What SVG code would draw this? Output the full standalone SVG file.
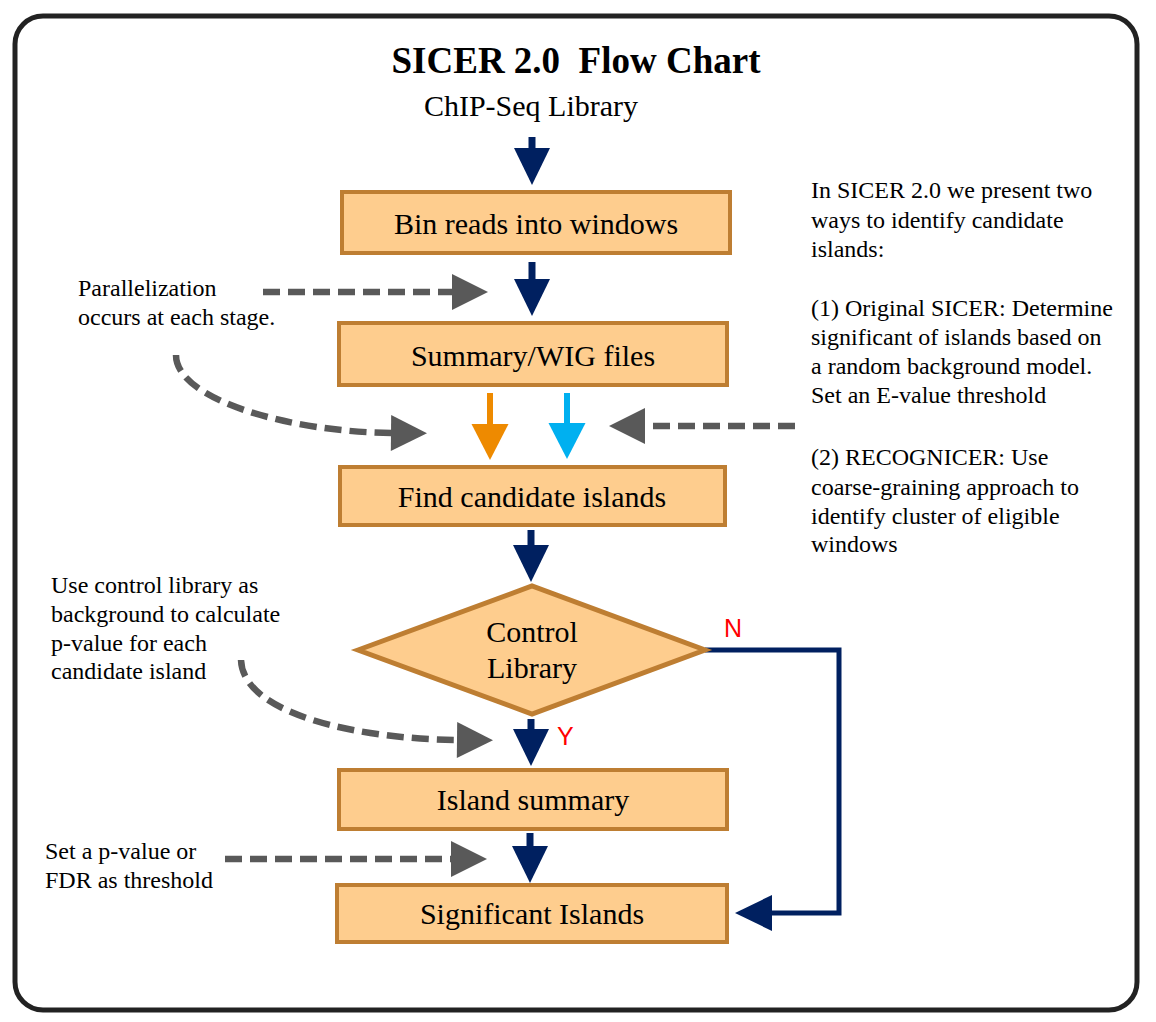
<svg xmlns="http://www.w3.org/2000/svg" width="1156" height="1022" viewBox="0 0 1156 1022">
  <style>
    .box { fill: #FECD8E; stroke: #BE7E32; stroke-width: 4; }
    .btxt { font-family: "Liberation Serif", "Times New Roman", serif; font-size: 30px; fill: #000; text-anchor: middle; }
    .note { font-family: "Liberation Serif", "Times New Roman", serif; font-size: 24px; fill: #000; }
    .yn { font-family: "Liberation Sans", Arial, sans-serif; font-size: 25px; fill: #FF0000; }
    .navy { stroke: #002060; stroke-width: 7; fill: none; }
    .gray { stroke: #595959; stroke-width: 6.5; fill: none; stroke-dasharray: 17 8; }
  </style>
  <defs>
    <marker id="hNavy" markerUnits="userSpaceOnUse" markerWidth="38" markerHeight="36" refX="1" refY="18" orient="auto" overflow="visible">
      <path d="M0,0 L37,18 L0,36 z" fill="#002060"/>
    </marker>
    <marker id="hGray" markerUnits="userSpaceOnUse" markerWidth="37" markerHeight="37" refX="1" refY="18" orient="auto" overflow="visible">
      <path d="M0,0 L36,18 L0,36 z" fill="#595959"/>
    </marker>
    <marker id="hOrange" markerUnits="userSpaceOnUse" markerWidth="37" markerHeight="37" refX="1" refY="18.5" orient="auto" overflow="visible">
      <path d="M0,0 L36,18.5 L0,37 z" fill="#EE8A00"/>
    </marker>
    <marker id="hCyan" markerUnits="userSpaceOnUse" markerWidth="37" markerHeight="37" refX="1" refY="18.5" orient="auto" overflow="visible">
      <path d="M0,0 L36,18.5 L0,37 z" fill="#00B0F0"/>
    </marker>
  </defs>

  <rect x="0" y="0" width="1156" height="1022" fill="#FFFFFF"/>
  <rect x="15" y="16" width="1122" height="994" rx="28" ry="28" fill="#FFFFFF" stroke="#222222" stroke-width="5"/>

  <text x="576" y="73" text-anchor="middle" font-family="Liberation Serif, 'Times New Roman', serif" font-weight="bold" font-size="37" style="white-space:pre">SICER 2.0  Flow Chart</text>
  <text id="chip" x="531" y="116" text-anchor="middle" font-family="Liberation Serif, 'Times New Roman', serif" font-size="30">ChIP-Seq Library</text>

  <g id="connectors">
    <path class="navy" d="M532,137 V149" marker-end="url(#hNavy)"/>
    <path class="navy" d="M532,262 V280" marker-end="url(#hNavy)"/>
    <path d="M490,393 V425" stroke="#EE8A00" stroke-width="6" fill="none" marker-end="url(#hOrange)"/>
    <path d="M567,393 V424" stroke="#00B0F0" stroke-width="6" fill="none" marker-end="url(#hCyan)"/>
    <path class="navy" d="M531,530 V546" marker-end="url(#hNavy)"/>
    <path class="navy" d="M531,719 V730" marker-end="url(#hNavy)"/>
    <path class="navy" d="M530,833 V847" marker-end="url(#hNavy)"/>
    <path d="M705,650 H839 V913 H771" stroke="#002060" stroke-width="5" fill="none" marker-end="url(#hNavy)"/>

    <path class="gray" d="M263,292 H453" marker-end="url(#hGray)"/>
    <path class="gray" d="M176,355 C176,400 290,432 392,433" marker-end="url(#hGray)"/>
    <path class="gray" d="M795,426 H644" marker-end="url(#hGray)"/>
    <path class="gray" d="M241,660 C243,715 360,739 458,740" marker-end="url(#hGray)"/>
    <path class="gray" d="M225,859 H452" marker-end="url(#hGray)"/>
  </g>

  <g id="bin">
    <rect class="box" x="342" y="192" width="388" height="61"/>
    <text class="btxt" x="536" y="234">Bin reads into windows</text>
  </g>
  <g id="summary">
    <rect class="box" x="339" y="323" width="388" height="62"/>
    <text class="btxt" x="533" y="366">Summary/WIG files</text>
  </g>
  <g id="find">
    <rect class="box" x="340" y="467" width="385" height="58"/>
    <text class="btxt" x="532" y="507">Find candidate islands</text>
  </g>
  <g id="control">
    <polygon class="box" points="358,650 532,586 705,650 532,714" style="stroke-width:5"/>
    <text class="btxt" x="532" y="642">Control</text>
    <text class="btxt" x="532" y="678">Library</text>
  </g>
  <g id="island">
    <rect class="box" x="339" y="770" width="388" height="59"/>
    <text class="btxt" x="533" y="810">Island summary</text>
  </g>
  <g id="significant">
    <rect class="box" x="337" y="885" width="390" height="57"/>
    <text class="btxt" x="532" y="924">Significant Islands</text>
  </g>

  <text class="yn" x="724" y="637">N</text>
  <text class="yn" x="557" y="745">Y</text>

  <g id="note-parallel">
    <text class="note" x="78" y="296">Parallelization</text>
    <text class="note" x="78" y="325">occurs at each stage.</text>
  </g>
  <g id="note-control">
    <text class="note" x="51" y="593">Use control library as</text>
    <text class="note" x="51" y="622">background to calculate</text>
    <text class="note" x="51" y="651">p-value for each</text>
    <text class="note" x="51" y="679">candidate island</text>
  </g>
  <g id="note-threshold">
    <text class="note" x="45" y="859">Set a p-value or</text>
    <text class="note" x="45" y="888">FDR as threshold</text>
  </g>
  <g id="note-right">
    <text class="note" x="811" y="198">In SICER 2.0 we present two</text>
    <text class="note" x="811" y="228">ways to identify candidate</text>
    <text class="note" x="811" y="257">islands:</text>
    <text class="note" x="811" y="316">(1) Original SICER: Determine</text>
    <text class="note" x="811" y="345">significant of islands based on</text>
    <text class="note" x="811" y="374">a random background model.</text>
    <text class="note" x="811" y="403">Set an E-value threshold</text>
    <text class="note" x="811" y="465">(2) RECOGNICER: Use</text>
    <text class="note" x="811" y="495">coarse-graining approach to</text>
    <text class="note" x="811" y="524">identify cluster of eligible</text>
    <text class="note" x="811" y="552">windows</text>
  </g>
</svg>
